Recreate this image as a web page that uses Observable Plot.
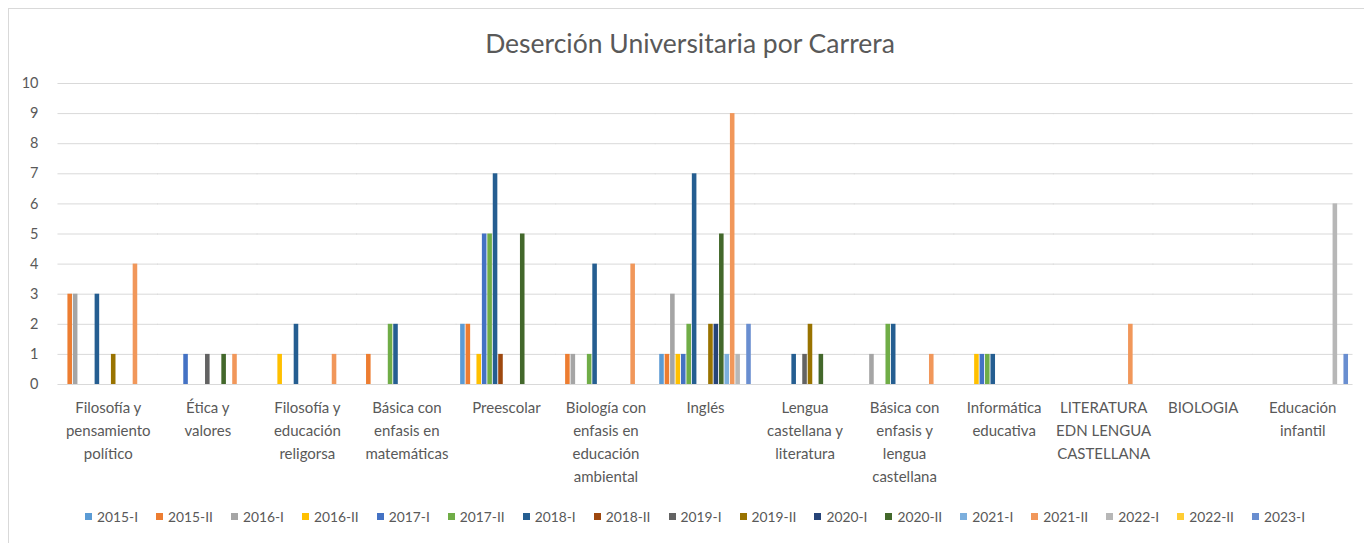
<!DOCTYPE html>
<html>
<head>
<meta charset="utf-8">
<script src="https://cdn.jsdelivr.net/npm/d3@7"></script>
<script src="https://cdn.jsdelivr.net/npm/@observablehq/plot@0.6"></script>
<style>
  html, body { margin: 0; padding: 0; background: #fff; }
  body { width: 1364px; height: 543px; position: relative; overflow: hidden; font-family: Lato, "Open Sans", sans-serif; color: #595959; }
  #frame { position: absolute; left: 8px; top: 8px; width: 1360px; height: 540px; border: 1px solid #d9d9d9; box-sizing: border-box; }
  #title { position: absolute; left: 0; width: 1380px; top: 27px; text-align: center; font-size: 26.5px; color: #595959; }
  #chart { position: absolute; left: 0; top: 60px; }
  #legend { position: absolute; left: 0; width: 1390px; top: 508px; display: flex; justify-content: center; font-size: 13.8px; color: #595959; }
  .item { display: flex; align-items: center; margin: 0 9px; }
  .sw { width: 7px; height: 7px; margin-right: 5px; }
</style>
</head>
<body>
<div id="frame"></div>
<div id="title">Deserción Universitaria por Carrera</div>
<div id="chart"></div>
<div id="legend"></div>
<script>
const categories = [
  "Filosofía y\npensamiento\npolítico",
  "Ética y\nvalores",
  "Filosofía y\neducación\nreligorsa",
  "Básica con\nenfasis en\nmatemáticas",
  "Preescolar",
  "Biología con\nenfasis en\neducación\nambiental",
  "Inglés",
  "Lengua\ncastellana y\nliteratura",
  "Básica con\nenfasis y\nlengua\ncastellana",
  "Informática\neducativa",
  "LITERATURA\nEDN LENGUA\nCASTELLANA",
  "BIOLOGIA",
  "Educación\ninfantil"
];
const series = ["2015-I","2015-II","2016-I","2016-II","2017-I","2017-II","2018-I","2018-II","2019-I","2019-II","2020-I","2020-II","2021-I","2021-II","2022-I","2022-II","2023-I"];
const colors = ["#5B9BD5","#ED7D31","#A5A5A5","#FFC000","#4472C4","#70AD47","#255E91","#9E480E","#636363","#997300","#264478","#43682B","#7CAFDD","#F1975A","#B7B7B7","#FFCD33","#698ED0"];
// one row per category, one column per series
const counts = [
  [0,3,3,0,0,0,3,0,0,1,0,0,0,4,0,0,0],
  [0,0,0,0,1,0,0,0,1,0,0,1,0,1,0,0,0],
  [0,0,0,1,0,0,2,0,0,0,0,0,0,1,0,0,0],
  [0,1,0,0,0,2,2,0,0,0,0,0,0,0,0,0,0],
  [2,2,0,1,5,5,7,1,0,0,0,5,0,0,0,0,0],
  [0,1,1,0,0,1,4,0,0,0,0,0,0,4,0,0,0],
  [1,1,3,1,1,2,7,0,0,2,2,5,1,9,1,0,2],
  [0,0,0,0,0,0,1,0,1,2,0,1,0,0,0,0,0],
  [0,0,1,0,0,2,2,0,0,0,0,0,0,1,0,0,0],
  [0,0,0,1,1,1,1,0,0,0,0,0,0,0,0,0,0],
  [0,0,0,0,0,0,0,0,0,0,0,0,0,2,0,0,0],
  [0,0,0,0,0,0,0,0,0,0,0,0,0,0,0,0,0],
  [0,0,0,0,0,0,0,0,0,0,0,0,0,0,6,0,1]
];
const yTicks = [0,1,2,3,4,5,6,7,8,9,10];

// every category keeps its facet (zero values draw nothing)
const data = [];
categories.forEach((c, i) => series.forEach((s, j) => {
  data.push({cat: c, series: s, value: counts[i][j]});
}));

const chart = Plot.plot({
  width: 1364,
  height: 434,
  marginLeft: 58,
  marginRight: 12,
  marginTop: 23,
  marginBottom: 110,
  style: {fontFamily: "Lato, 'Open Sans', sans-serif", fontSize: "15px", color: "#595959", background: "transparent"},
  fx: {domain: categories, paddingInner: 0.08, paddingOuter: 0.04, round: false, label: null},
  x: {domain: series, paddingInner: 0.16, paddingOuter: 0, round: false, axis: null},
  y: {domain: [0, 10], ticks: yTicks, label: null},
  color: {domain: series, range: colors},
  marks: [
    Plot.ruleY(yTicks, {y: d => d, stroke: "#d9d9d9", strokeWidth: 1, insetLeft: -4.5, insetRight: -4.5}),
    Plot.axisY(yTicks, {tickSize: 0, tickPadding: 24, fill: "#595959", fontSize: 14.5, label: null}),
    Plot.axisFx({anchor: "bottom", tickSize: 0, tickPadding: 12, fill: "#595959", fontSize: 15, lineHeight: 1.53, lineAnchor: "top", label: null}),
    Plot.barY(data, {fx: "cat", x: "series", y: "value", fill: "series"})
  ]
});
document.getElementById("chart").appendChild(chart);

const legend = document.getElementById("legend");
series.forEach((s, j) => {
  const it = document.createElement("div");
  it.className = "item";
  const sw = document.createElement("div");
  sw.className = "sw";
  sw.style.background = colors[j];
  const t = document.createElement("span");
  t.textContent = s;
  it.appendChild(sw); it.appendChild(t);
  legend.appendChild(it);
});
</script>
</body>
</html>
